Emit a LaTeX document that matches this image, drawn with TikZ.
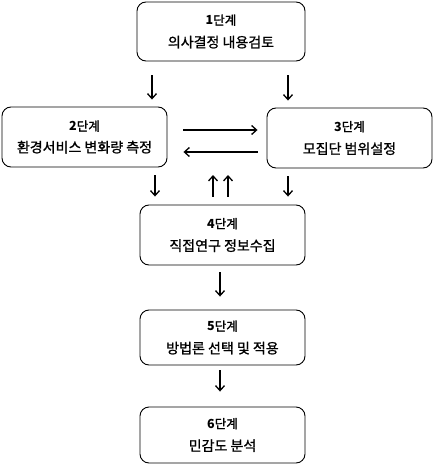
\documentclass[tikz,border=0pt]{standalone}
\usepackage{fontspec}
\setmainfont{Noto Sans CJK KR}
\newfontfamily\bodyfont{Noto Sans CJK KR}[FakeBold=1.2]
\usetikzlibrary{arrows.meta,calc}
\tikzset{
  stepbox/.style={draw=black, line width=0.9pt, rounded corners=9pt, minimum width=166pt, minimum height=58pt, align=center, inner sep=0pt},
  arr/.style={-{Straight Barb[length=5pt,width=9pt]}, line width=1.3pt},
}
\newcommand{\stitle}[1]{{\fontsize{12.5pt}{14pt}\selectfont\textbf{#1}{\bodyfont 단계}}}
\newcommand{\sbody}[1]{{\bodyfont\fontsize{14pt}{15pt}\selectfont #1}}
\begin{document}
\begin{tikzpicture}[x=1pt,y=-1pt]
\useasboundingbox (0,0) rectangle (434,465);
\node[stepbox, minimum width=168pt, minimum height=59pt] (b1) at (221,31.5) {\stitle{1}\\[9pt]\sbody{의사결정 내용검토}};
\node[stepbox, minimum width=165pt, minimum height=60pt] (b2) at (84.5,137) {\stitle{2}\\[8pt]\sbody{환경서비스 변화량 측정}};
\node[stepbox, minimum width=165pt, minimum height=60pt] (b3) at (349.5,138) {\stitle{3}\\[9pt]\sbody{모집단 범위설정}};
\node[stepbox, minimum width=165pt, minimum height=60pt] (b4) at (222.5,235) {\stitle{4}\\[9pt]\sbody{직접연구 정보수집}};
\node[stepbox, minimum width=165pt, minimum height=55pt] (b5) at (222.5,337.5) {\stitle{5}\\[9pt]\sbody{방법론 선택 및 적용}};
\node[stepbox, minimum width=165pt, minimum height=56pt] (b6) at (222.5,435) {\stitle{6}\\[9pt]\sbody{민감도 분석}};
% coordinates for arrow x positions
\coordinate (x152) at (152,0);
\coordinate (x288) at (288,0);
\coordinate (x155) at (155,0);
\coordinate (x220) at (220,0);
\coordinate (u1) at (213,175);
\coordinate (u2) at (228,175);
% vertical arrows
\draw[arr, shorten <=14pt, shorten >=7pt] (x152 |- b1.south) -- (x152 |- b2.north);
\draw[arr, shorten <=14pt, shorten >=7pt] (x288 |- b1.south) -- (x288 |- b3.north);
\draw[arr, shorten <=8pt, shorten >=8pt] (x155 |- b2.south) -- (x155 |- b4.north);
\draw[arr, shorten <=8pt, shorten >=8pt] (x288 |- b3.south) -- (x288 |- b4.north);
\draw[arr, shorten <=8pt] (u1 |- b4.north) -- (u1);
\draw[arr, shorten <=8pt] (u2 |- b4.north) -- (u2);
\draw[arr, shorten <=7pt, shorten >=13pt] (x220 |- b4.south) -- (x220 |- b5.north);
\draw[arr, shorten <=5pt, shorten >=15pt] (x220 |- b5.south) -- (x220 |- b6.north);
% horizontal arrows
\draw[arr, shorten <=16pt, shorten >=9pt] ($(b2.east)+(0,-7)$) -- ($(b3.west)+(0,-8)$);
\draw[arr, shorten <=9pt, shorten >=16pt] ($(b3.west)+(0,14)$) -- ($(b2.east)+(0,15)$);
\end{tikzpicture}
\end{document}
